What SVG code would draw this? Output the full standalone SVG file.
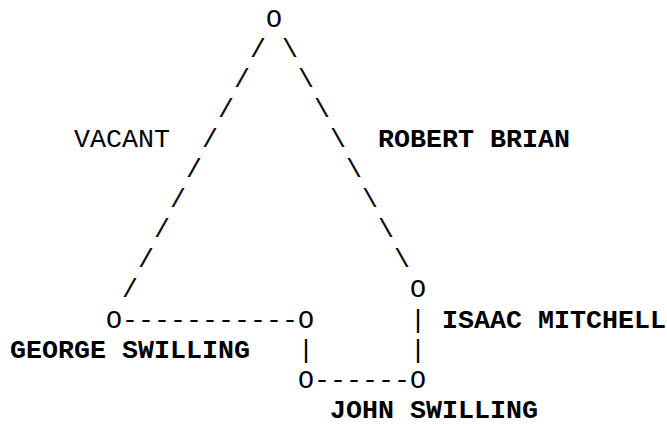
<svg xmlns="http://www.w3.org/2000/svg" width="667" height="425" viewBox="0 0 667 425">
<style>
text{font-family:"Liberation Mono","Cousine","DejaVu Sans Mono",monospace;font-size:26.67px;fill:#000;white-space:pre}
.b{font-weight:bold}
</style>
<rect width="667" height="425" fill="#fff"/>
<g id="connectors">
<text x="250" y="56.6">/</text>
<text x="234" y="86.7">/</text>
<text x="218" y="116.8">/</text>
<text x="202" y="146.9">/</text>
<text x="186" y="177">/</text>
<text x="170" y="207.1">/</text>
<text x="154" y="237.2">/</text>
<text x="138" y="267.3">/</text>
<text x="122" y="297.4">/</text>
<text x="282" y="56.6">\</text>
<text x="298" y="86.7">\</text>
<text x="314" y="116.8">\</text>
<text x="330" y="146.9">\</text>
<text x="346" y="177">\</text>
<text x="362" y="207.1">\</text>
<text x="378" y="237.2">\</text>
<text x="394" y="267.3">\</text>
<text x="122" y="327.5">-----------</text>
<text x="410" y="327.5">|</text>
<text x="298" y="357.6">|</text>
<text x="410" y="357.6">|</text>
<text x="314" y="387.7">------</text>
</g>
<g id="node-top"><text x="266" y="26.5">O</text></g>
<g id="label-vacant"><text x="74" y="146.9">VACANT</text></g>
<g id="label-robert-brian"><text class="b" x="378" y="146.9">ROBERT BRIAN</text></g>
<g id="node-isaac"><text x="410" y="297.4">O</text></g>
<g id="label-isaac-mitchell"><text class="b" x="442" y="327.5">ISAAC MITCHELL</text></g>
<g id="node-george"><text x="106" y="327.5">O</text></g>
<g id="label-george-swilling"><text class="b" x="10" y="357.6">GEORGE SWILLING</text></g>
<g id="node-mid"><text x="298" y="327.5">O</text></g>
<g id="node-john-left"><text x="298" y="387.7">O</text></g>
<g id="node-john-right"><text x="410" y="387.7">O</text></g>
<g id="label-john-swilling"><text class="b" x="330" y="417.8">JOHN SWILLING</text></g>
</svg>
